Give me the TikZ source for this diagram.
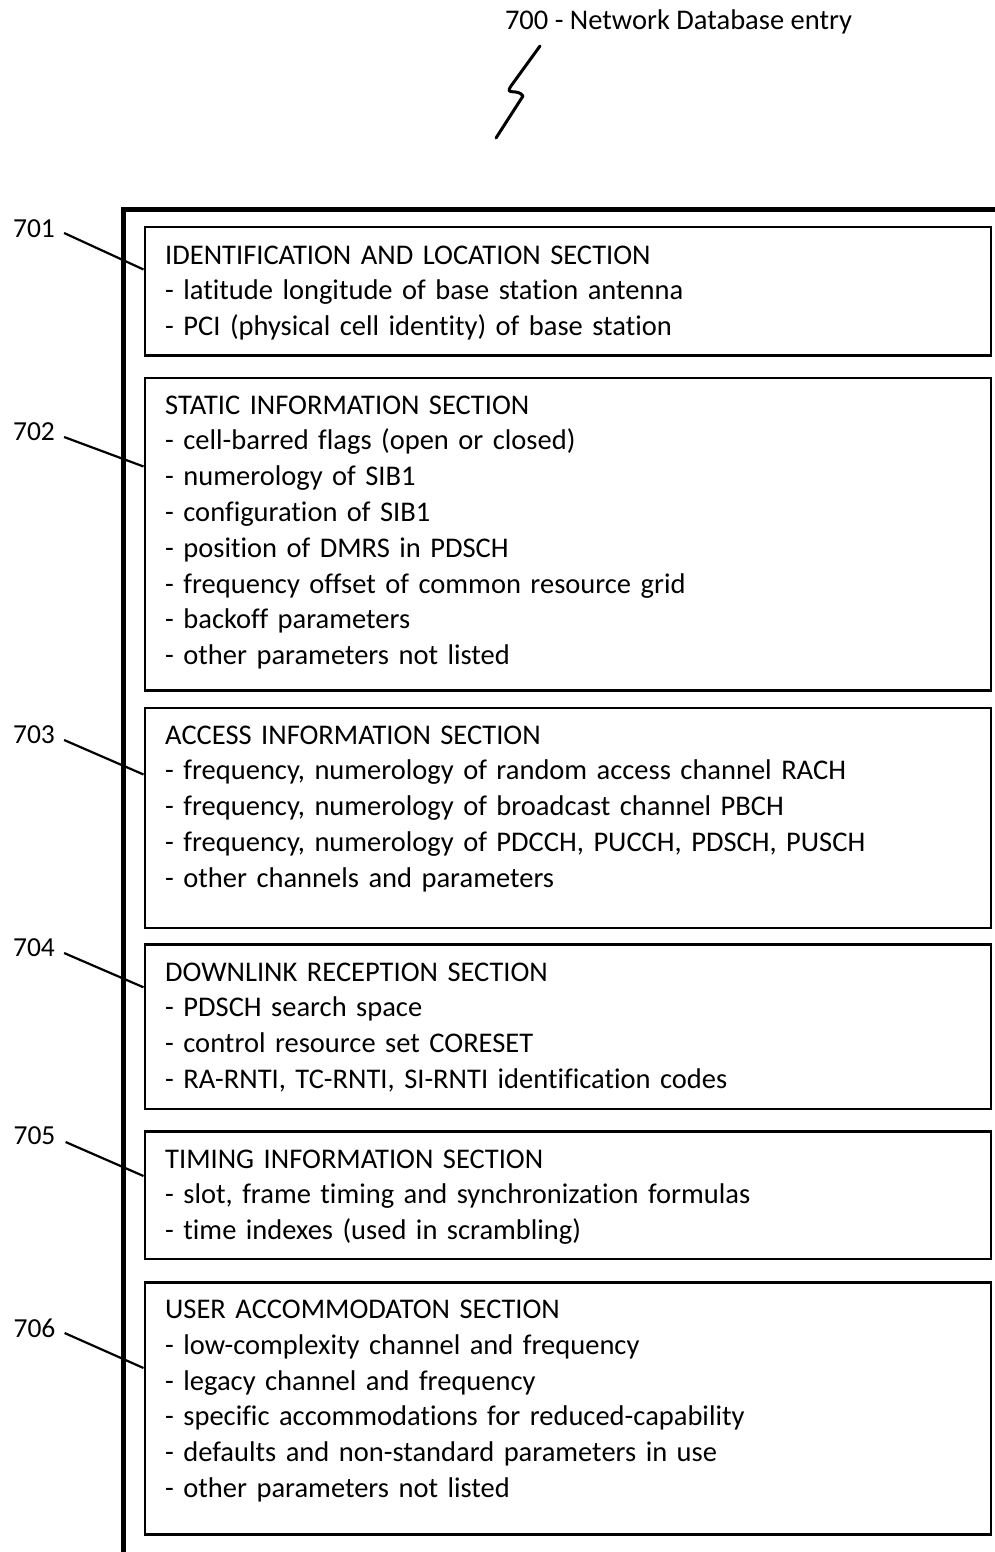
\documentclass[tikz,border=0pt]{standalone}
\usepackage{fontspec}
\setmainfont{Carlito}[Ligatures={NoCommon}]
\begin{document}
\begin{tikzpicture}[x=1pt,y=-1pt,
  secbox/.style={draw, line width=2.6pt, minimum width=846pt, inner sep=0pt, anchor=north west},
  sectext/.style={anchor=base west, align=left, text width=830pt, inner sep=0pt, font=\fontsize{28.5}{35.8}\selectfont},
  reflabel/.style={font=\fontsize{27.5}{30}\selectfont, inner sep=0pt},
  leader/.style={line width=2.2pt},
  frame/.style={line width=5pt}]
\useasboundingbox (0,0) rectangle (995,1552);

% title and zigzag
\node[font=\fontsize{28.5}{30}\selectfont, inner sep=0pt, anchor=base] (title) at (678.5,30) {700 - Network Database entry};
\draw[line width=3pt, line cap=round, line join=round] (540,46) -- (511,86) .. controls (504,96) and (518,88) .. (523,96) -- (496,138);

% outer frame
\draw[frame] (123,1560) -- (123,209) -- (1000,209);

% boxes
\node[secbox, minimum height=128.5pt] (b1) at (143.5,225.5) {};
\node[secbox, minimum height=312.5pt] (b2) at (143.5,376.5) {};
\node[secbox, minimum height=220pt] (b3) at (143.5,706.5) {};
\node[secbox, minimum height=164.5pt] (b4) at (143.5,943.3) {};
\node[secbox, minimum height=127.5pt] (b5) at (143.5,1130) {};
\node[secbox, minimum height=252pt] (b6) at (143.5,1281) {};

% texts
\node[sectext] (t1) at (165,264) {IDENTIFICATION AND LOCATION SECTION\\- latitude longitude of base station antenna\\- PCI (physical cell identity) of base station};
\node[sectext] (t2) at (165,414) {STATIC INFORMATION SECTION\\- cell-barred flags (open or closed)\\- numerology of SIB1\\- configuration of SIB1\\- position of DMRS in PDSCH\\- frequency offset of common resource grid\\- backoff parameters\\- other parameters not listed};
\node[sectext] (t3) at (165,744) {ACCESS INFORMATION SECTION\\- frequency, numerology of random access channel RACH\\- frequency, numerology of broadcast channel PBCH\\- frequency, numerology of PDCCH, PUCCH, PDSCH, PUSCH\\- other channels and parameters};
\node[sectext] (t4) at (165,981) {DOWNLINK RECEPTION SECTION\\- PDSCH search space\\- control resource set CORESET\\- RA-RNTI, TC-RNTI, SI-RNTI identification codes};
\node[sectext] (t5) at (165,1168) {TIMING INFORMATION SECTION\\- slot, frame timing and synchronization formulas\\- time indexes (used in scrambling)};
\node[sectext] (t6) at (165,1318.5) {USER ACCOMMODATON SECTION\\- low-complexity channel and frequency\\- legacy channel and frequency\\- specific accommodations for reduced-capability\\- defaults and non-standard parameters in use\\- other parameters not listed};

% reference labels
\node[reflabel] (l1) at (34,229) {701};
\node[reflabel] (l2) at (34,432) {702};
\node[reflabel] (l3) at (34,735) {703};
\node[reflabel] (l4) at (34,948) {704};
\node[reflabel] (l5) at (34.5,1136) {705};
\node[reflabel] (l6) at (34.5,1328) {706};

\draw[leader] ([xshift=9pt,yshift=-4pt]l1.east) -- ([yshift=-44pt]b1.north west);
\draw[leader] ([xshift=9pt,yshift=-5pt]l2.east) -- ([yshift=-90pt]b2.north west);
\draw[leader] ([xshift=9pt,yshift=-5pt]l3.east) -- ([yshift=-68pt]b3.north west);
\draw[leader] ([xshift=9pt,yshift=-5pt]l4.east) -- ([yshift=-44pt]b4.north west);
\draw[leader] ([xshift=10pt,yshift=-6pt]l5.east) -- ([yshift=-46pt]b5.north west);
\draw[leader] ([xshift=9pt,yshift=-5pt]l6.east) -- ([yshift=-87pt]b6.north west);
\end{tikzpicture}
\end{document}
